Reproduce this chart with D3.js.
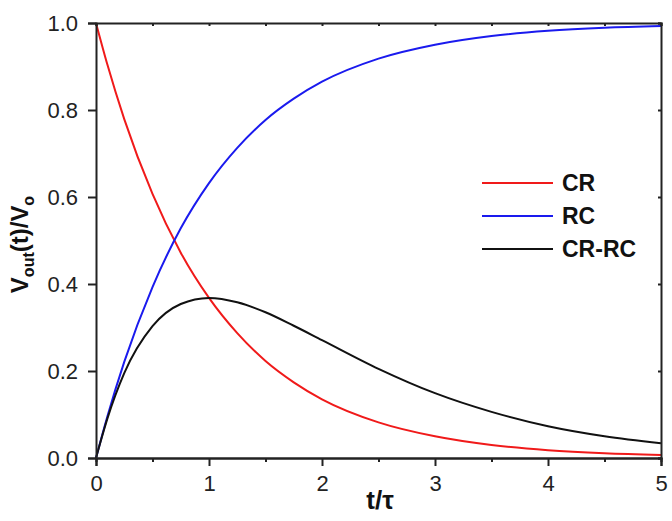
<!DOCTYPE html>
<html>
<head>
<meta charset="utf-8">
<script src="https://cdn.jsdelivr.net/npm/d3@7"></script>
<style>
  body { margin: 0; background: #fff; }
  svg { display: block; font-family: Arial, "Liberation Sans", sans-serif; }
</style>
</head>
<body>
<svg id="chart" width="672" height="521"></svg>
<script>
// values
const tVals = [0, 0.1, 0.25, 0.5, 0.75, 1, 1.25, 1.5, 1.75, 2, 2.5, 3, 3.5, 4, 4.5, 5];
const crVals = [1, 0.905, 0.779, 0.607, 0.472, 0.368, 0.287, 0.223, 0.174, 0.135, 0.082, 0.050, 0.030, 0.018, 0.011, 0.007];
const rcVals = [0, 0.095, 0.221, 0.393, 0.528, 0.632, 0.713, 0.777, 0.826, 0.865, 0.918, 0.950, 0.970, 0.982, 0.989, 0.993];
const crrcVals = [0, 0.090, 0.195, 0.303, 0.354, 0.368, 0.358, 0.335, 0.304, 0.271, 0.205, 0.149, 0.106, 0.073, 0.050, 0.034];

const xTicks = [0, 1, 2, 3, 4, 5];
const xMinor = [0.5, 1.5, 2.5, 3.5, 4.5];
const yTicks = [0, 0.2, 0.4, 0.6, 0.8, 1.0];

const series = [
  { name: 'CR', values: crVals, color: '#f01a1a' },
  { name: 'RC', values: rcVals, color: '#1a1aee' },
  { name: 'CR-RC', values: crrcVals, color: '#111111' },
];

const svg = d3.select('#chart');
const plotLeft = 96, plotRight = 661, plotTop = 23, plotBottom = 458;

const x = d3.scaleLinear().domain([0, 5]).range([plotLeft, plotRight]);
const y = d3.scaleLinear().domain([0, 1]).range([plotBottom, plotTop]);

// curves
const line = d3.line()
  .x((d, i) => x(tVals[i]))
  .y(d => y(d))
  .curve(d3.curveMonotoneX);

svg.append('g')
  .selectAll('path')
  .data(series)
  .enter()
  .append('path')
  .attr('d', d => line(d.values))
  .attr('fill', 'none')
  .attr('stroke', d => d.color)
  .attr('stroke-width', 2);

// axes
const tickFont = g => g.selectAll('text')
  .attr('font-size', 22)
  .attr('fill', '#222')
  .attr('font-family', 'Arial, "Liberation Sans", sans-serif');

const axisStyle = g => {
  g.selectAll('.domain').attr('stroke', '#222').attr('stroke-width', 2);
  g.selectAll('.tick line').attr('stroke', '#222').attr('stroke-width', 2);
};

svg.append('g')
  .attr('transform', `translate(0,${plotBottom})`)
  .call(d3.axisBottom(x).tickValues(xTicks).tickFormat(d3.format('d')).tickSizeOuter(0).tickSize(8).tickPadding(9))
  .call(axisStyle)
  .call(tickFont);

svg.append('g')
  .attr('transform', `translate(0,${plotBottom})`)
  .call(d3.axisBottom(x).tickValues(xMinor).tickFormat('').tickSizeOuter(0).tickSize(4))
  .call(axisStyle);

svg.append('g')
  .attr('transform', `translate(${plotLeft},0)`)
  .call(d3.axisLeft(y).tickValues(yTicks).tickFormat(d3.format('.1f')).tickSizeOuter(0).tickSize(8).tickPadding(10))
  .call(axisStyle)
  .call(tickFont);

// mirrored frame with tiny inward ticks
svg.append('g')
  .attr('transform', `translate(0,${plotTop})`)
  .call(d3.axisTop(x).tickValues(xTicks.concat(xMinor)).tickFormat('').tickSizeOuter(0).tickSize(-3))
  .call(axisStyle);

svg.append('g')
  .attr('transform', `translate(${plotRight},0)`)
  .call(d3.axisRight(y).tickValues(yTicks).tickFormat('').tickSizeOuter(0).tickSize(-3))
  .call(axisStyle);

// axis titles
const yLabel = svg.append('text')
  .attr('transform', `translate(28,${(plotTop + plotBottom) / 2 + 4}) rotate(-90)`)
  .attr('text-anchor', 'middle')
  .attr('font-size', 24)
  .attr('font-weight', 'bold')
  .attr('fill', '#111');
yLabel.append('tspan').text('V');
yLabel.append('tspan').attr('font-size', 16).attr('dy', 6).text('out');
yLabel.append('tspan').attr('dy', -6).text('(t)/V');
yLabel.append('tspan').attr('font-size', 16).attr('dy', 6).text('o');

svg.append('text')
  .attr('x', 380)
  .attr('y', 509)
  .attr('text-anchor', 'middle')
  .attr('font-size', 26)
  .attr('font-weight', 'bold')
  .attr('fill', '#111')
  .text('t/τ');

// legend
const legend = svg.append('g')
  .selectAll('g')
  .data(series)
  .enter()
  .append('g')
  .attr('transform', (d, i) => `translate(482,${183 + i * 33})`);

legend.append('line')
  .attr('x1', 0)
  .attr('x2', 71)
  .attr('stroke', d => d.color)
  .attr('stroke-width', 2);

legend.append('text')
  .attr('x', 80)
  .attr('y', 8)
  .attr('font-size', 23)
  .attr('font-weight', 'bold')
  .attr('fill', '#111')
  .text(d => d.name);
</script>
</body>
</html>
